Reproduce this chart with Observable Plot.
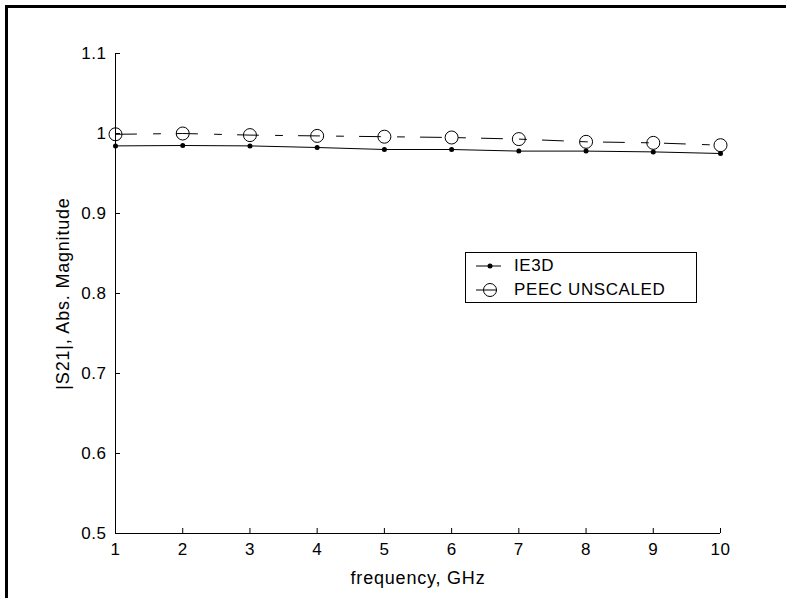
<!DOCTYPE html>
<html><head><meta charset="utf-8">
<script src="https://cdn.jsdelivr.net/npm/d3@7"></script>
<script src="https://cdn.jsdelivr.net/npm/@observablehq/plot@0.6"></script>
<style>
body{margin:0;background:#fff;}
#wrap{position:relative;width:786px;height:598px;overflow:hidden;font-family:"Liberation Sans",Arial,Helvetica,sans-serif;background:#fff;}
#chart{position:absolute;left:0;top:0;}
#frame{position:absolute;left:5px;top:5px;width:800px;height:620px;border-top:3px solid #000;border-left:3px solid #000;pointer-events:none;}
#legend{position:absolute;left:465px;top:252px;width:230px;height:49px;border:1px solid #000;background:#fff;font-size:17px;letter-spacing:0.6px;}
#legend .row{position:absolute;left:48px;line-height:20px;}
#legend svg{position:absolute;left:0;top:0;}
#chart g[aria-label="x-axis label"] text, #chart g[aria-label="y-axis label"] text{font-size:18px;letter-spacing:0.8px;}
</style></head>
<body><div id="wrap"><div id="chart"></div><div id="frame"></div><div id="legend"></div></div>
<script>
const freq = [1, 2, 3, 4, 5, 6, 7, 8, 9, 10];
const ie3d = [0.9845, 0.985, 0.9845, 0.9825, 0.980, 0.980, 0.978, 0.978, 0.977, 0.975];
const peec = [0.999, 1.000, 0.998, 0.997, 0.996, 0.995, 0.993, 0.9896, 0.9883, 0.9854];
const seriesNames = ["IE3D", "PEEC UNSCALED"];
const xTicks = [1, 2, 3, 4, 5, 6, 7, 8, 9, 10];
const yTicks = [0.5, 0.6, 0.7, 0.8, 0.9, 1.0, 1.1];
const yTickLabels = ["0.5", "0.6", "0.7", "0.8", "0.9", "1", "1.1"];
const xLabel = "frequency, GHz";
const yLabel = "|S21|, Abs. Magnitude";

const rowsIE = freq.map((f, i) => ({f, v: ie3d[i]}));
const rowsPE = freq.map((f, i) => ({f, v: peec[i]}));
const xDomain = [xTicks[0], xTicks[xTicks.length - 1]];
const yDomain = [yTicks[0], yTicks[yTicks.length - 1]];
const fmtY = d => yTickLabels[yTicks.findIndex(t => Math.abs(t - d) < 1e-9)];

const chart = Plot.plot({
  width: 786,
  height: 598,
  marginLeft: 115,
  marginRight: 66,
  marginTop: 53,
  marginBottom: 65,
  style: {fontFamily: '"Liberation Sans", Arial, Helvetica, sans-serif', fontSize: "17px", background: "transparent", letterSpacing: "0.5px"},
  x: {domain: xDomain},
  y: {domain: yDomain},
  marks: [
    Plot.axisX(xTicks, {tickSize: -5, tickPadding: 14, tickFormat: d => String(d), label: xLabel, labelAnchor: "center", labelArrow: "none", labelOffset: 50, stroke: "#000", fill: "#000"}),
    Plot.axisY(yTicks, {tickSize: -5, tickPadding: 14, tickFormat: fmtY, label: yLabel, labelAnchor: "center", labelArrow: "none", labelOffset: 59, stroke: "#000", fill: "#000"}),
    Plot.ruleX([xDomain[0]], {stroke: "#000", strokeWidth: 1}),
    Plot.ruleY([yDomain[0]], {stroke: "#000", strokeWidth: 1}),
    Plot.line(rowsIE, {x: "f", y: "v", stroke: "#000", strokeWidth: 1}),
    Plot.dot(rowsIE, {x: "f", y: "v", r: 2.5, fill: "#000", stroke: "none"}),
    Plot.line(rowsPE, {x: "f", y: "v", stroke: "#000", strokeWidth: 1, strokeDasharray: "21,17,7,16"}),
    Plot.dot(rowsPE, {x: "f", y: "v", r: 6.5, fill: "none", stroke: "#000", strokeWidth: 1})
  ]
});
document.getElementById("chart").appendChild(chart);

// legend
const leg = document.getElementById("legend");
const ns = "http://www.w3.org/2000/svg";
const lsvg = document.createElementNS(ns, "svg");
lsvg.setAttribute("width", 230); lsvg.setAttribute("height", 49);
const rowsY = [13, 37];
const samples = [
  `<line x1="10" x2="35" y1="${rowsY[0]}" y2="${rowsY[0]}" stroke="#000"/><circle cx="24" cy="${rowsY[0]}" r="2.5" fill="#000"/>`,
  `<line x1="10" x2="35" y1="${rowsY[1]}" y2="${rowsY[1]}" stroke="#000" stroke-dasharray="21,17,7,16"/><circle cx="24" cy="${rowsY[1]}" r="6.5" fill="none" stroke="#000"/>`
];
lsvg.innerHTML = samples.join("");
leg.appendChild(lsvg);
seriesNames.forEach((name, i) => {
  const d = document.createElement("div");
  d.className = "row";
  d.style.top = (rowsY[i] - 10) + "px";
  d.textContent = name;
  leg.appendChild(d);
});
</script>
</body></html>
